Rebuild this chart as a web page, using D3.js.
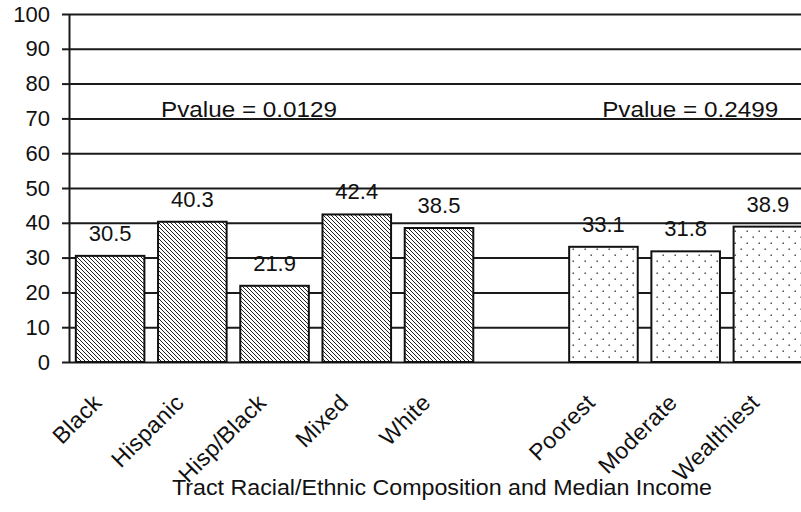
<!DOCTYPE html>
<html>
<head>
<meta charset="utf-8">
<script src="https://cdn.jsdelivr.net/npm/d3@7"></script>
<style>
  html, body { margin: 0; padding: 0; background: #fff; }
  svg { display: block; }
  text { font-family: "Liberation Sans", Arial, sans-serif; fill: #111; }
</style>
</head>
<body>
<svg id="chart" width="801" height="512"></svg>
<script>
// ---- data ----
const raceCategories = ["Black", "Hispanic", "Hisp/Black", "Mixed", "White"];
const raceValues = [30.5, 40.3, 21.9, 42.4, 38.5];
const incomeCategories = ["Poorest", "Moderate", "Wealthiest"];
const incomeValues = [33.1, 31.8, 38.9];
const yTicks = [0, 10, 20, 30, 40, 50, 60, 70, 80, 90, 100];
const pvalueLabels = ["Pvalue = 0.0129", "Pvalue = 0.2499"];
const xTitle = "Tract Racial/Ethnic Composition and Median Income";

(function () {
// ---- layout ----
const W = 801, H = 512;
const mLeft = 69, mTop = 14, mBottom = 362;
const svg = d3.select("#chart");

const gapKey = "__gap__";
const domain = [...raceCategories, gapKey, ...incomeCategories];
const x = d3.scaleBand().domain(domain).range([mLeft, 809]).paddingInner(0.166).paddingOuter(0.083);
const y = d3.scaleLinear().domain([0, 100]).range([mBottom, mTop]);

const bars = [
  ...raceCategories.map((c, i) => ({ cat: c, value: raceValues[i], group: "race" })),
  ...incomeCategories.map((c, i) => ({ cat: c, value: incomeValues[i], group: "income" }))
];

// patterns
const defs = svg.append("defs");
const hatch = defs.append("pattern").attr("id", "hatch")
  .attr("patternUnits", "userSpaceOnUse").attr("width", 4).attr("height", 4);
hatch.append("rect").attr("width", 4).attr("height", 4).attr("fill", "#fff");
hatch.append("path").attr("d", "M-1,-1 L5,5 M-1,3 L1,5 M3,-1 L5,1")
  .attr("stroke", "#222").attr("stroke-width", 1);

const dots = defs.append("pattern").attr("id", "dots")
  .attr("patternUnits", "userSpaceOnUse").attr("width", 12).attr("height", 12);
dots.append("rect").attr("width", 12).attr("height", 12).attr("fill", "#fff");
dots.append("rect").attr("x", 2.5).attr("y", 2.5).attr("width", 1.4).attr("height", 1.4).attr("fill", "#333");
dots.append("rect").attr("x", 8.5).attr("y", 8.5).attr("width", 1.4).attr("height", 1.4).attr("fill", "#333");

// gridlines
const grid = svg.append("g").attr("transform", `translate(${mLeft},0)`)
  .call(d3.axisLeft(y).tickValues(yTicks).tickSize(-(W - mLeft)).tickFormat(""));
grid.select(".domain").remove();
grid.selectAll("line").attr("stroke", "#1a1a1a").attr("stroke-width", 2);

// y axis
const yAxis = svg.append("g").attr("transform", `translate(${mLeft},0)`)
  .call(d3.axisLeft(y).tickValues(yTicks).tickSize(7).tickPadding(12).tickSizeOuter(0));
yAxis.select(".domain").attr("stroke", "#1a1a1a").attr("stroke-width", 2);
yAxis.selectAll(".tick line").attr("stroke", "#1a1a1a").attr("stroke-width", 2);
yAxis.selectAll(".tick text").attr("font-size", 22).attr("font-family", "Liberation Sans, Arial, sans-serif").attr("fill", "#111");

// bars
svg.append("g").selectAll("rect").data(bars).join("rect")
  .attr("x", d => x(d.cat))
  .attr("y", d => y(d.value))
  .attr("width", x.bandwidth())
  .attr("height", d => y(0) - y(d.value))
  .attr("fill", d => d.group === "race" ? "url(#hatch)" : "url(#dots)")
  .attr("stroke", "#111").attr("stroke-width", 2);

// value labels
svg.append("g").selectAll("text").data(bars).join("text")
  .attr("x", d => x(d.cat) + x.bandwidth() / 2)
  .attr("y", d => y(d.value) - 15)
  .attr("text-anchor", "middle")
  .attr("font-size", 22)
  .text(d => d.value.toFixed(1));

// x category labels (rotated)
const xAxis = svg.append("g").attr("transform", `translate(0,${mBottom})`)
  .call(d3.axisBottom(x).tickSize(0).tickFormat(d => d === gapKey ? "" : d));
xAxis.select(".domain").remove();
xAxis.selectAll(".tick text")
  .attr("font-size", 23)
  .attr("letter-spacing", 0.4)
  .attr("font-family", "Liberation Sans, Arial, sans-serif")
  .attr("fill", "#111")
  .attr("text-anchor", "end")
  .attr("y", 0).attr("dy", 0)
  .attr("transform", "translate(-7,42) rotate(-45)");

// p-value annotations
svg.append("text").attr("x", x("Hispanic") + 3).attr("y", y(70) - 1.5)
  .attr("font-size", 22).attr("textLength", 176).attr("lengthAdjust", "spacingAndGlyphs")
  .text(pvalueLabels[0]);
svg.append("text").attr("x", x("Poorest") + 33).attr("y", y(70) - 1.5)
  .attr("font-size", 22).attr("textLength", 176).attr("lengthAdjust", "spacingAndGlyphs")
  .text(pvalueLabels[1]);

// x title
svg.append("text").attr("x", 172).attr("y", 495)
  .attr("font-size", 22).attr("textLength", 540).attr("lengthAdjust", "spacingAndGlyphs")
  .text(xTitle);
})();
</script>
</body>
</html>
